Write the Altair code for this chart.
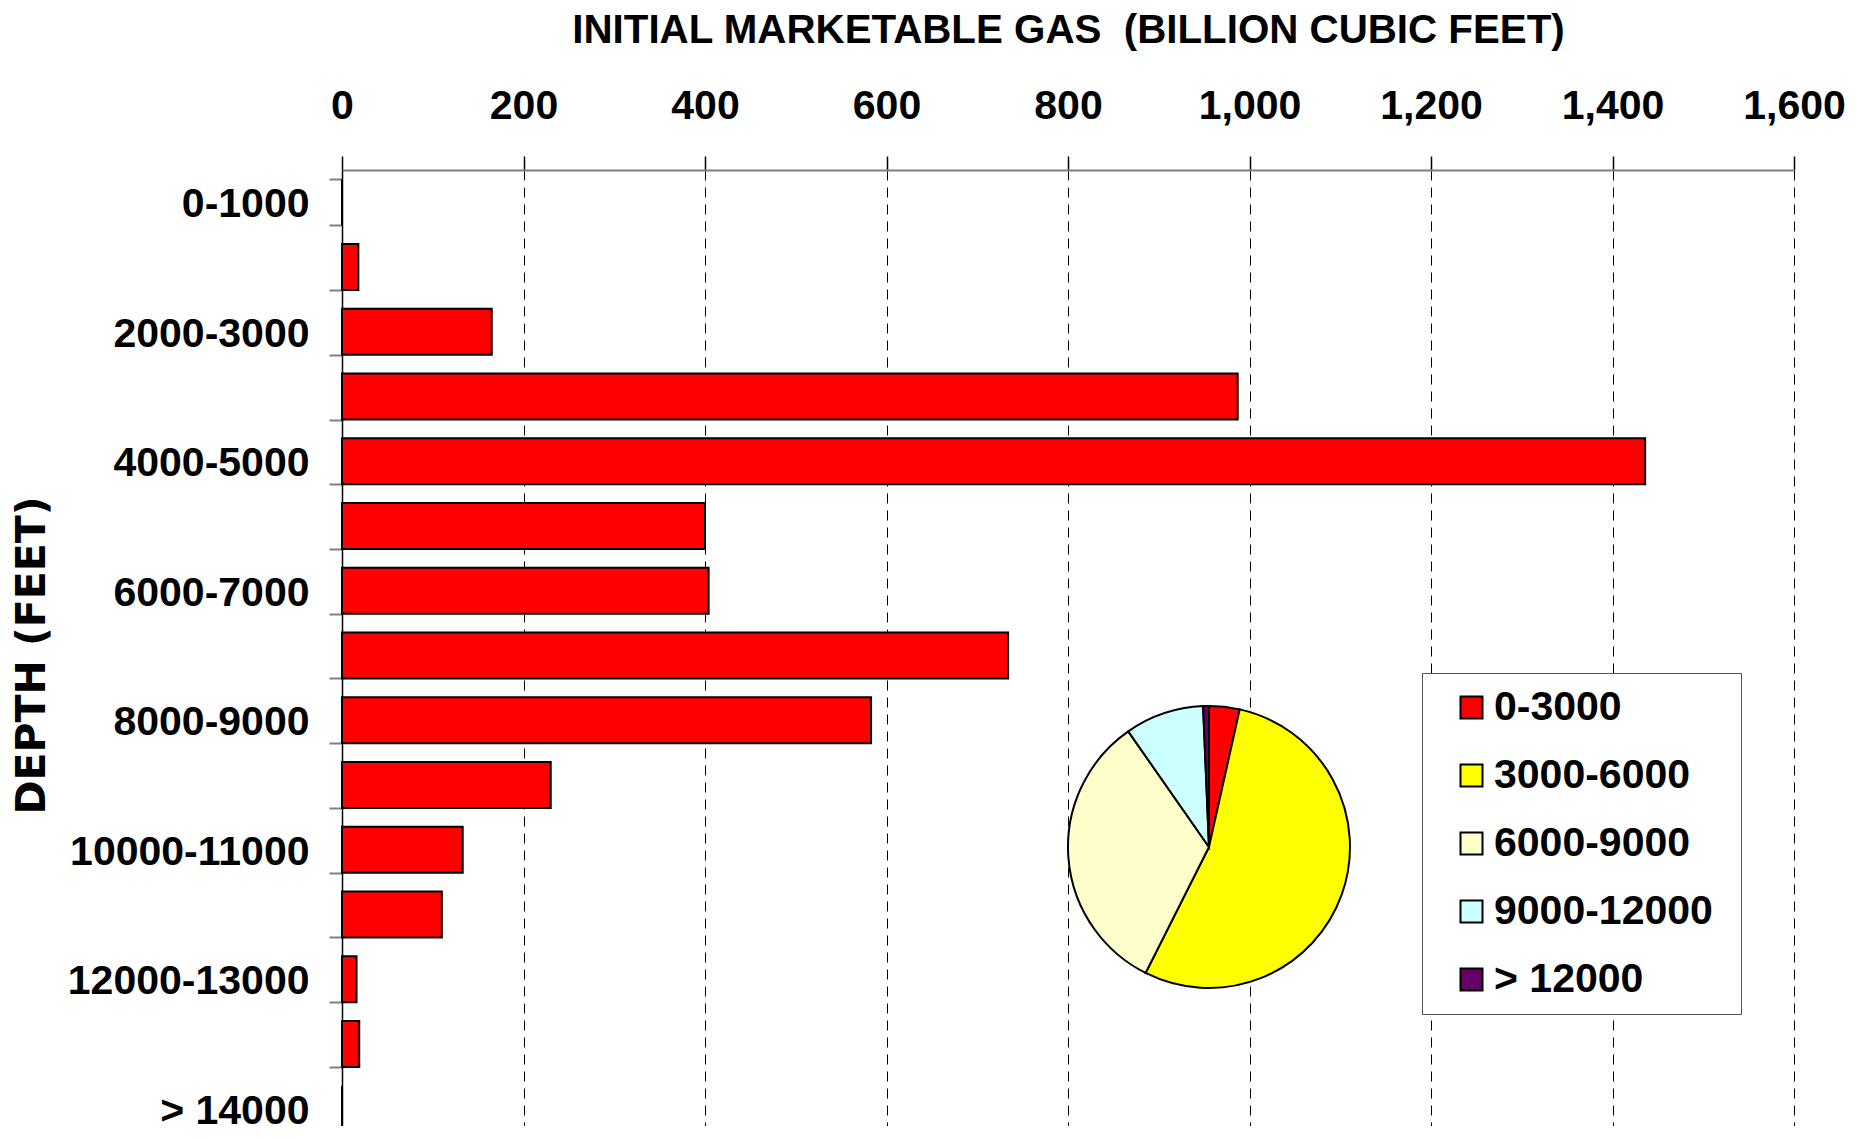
import json
import altair as alt
import pandas as pd

depths = ["0-1000", "1000-2000", "2000-3000", "3000-4000", "4000-5000",
          "5000-6000", "6000-7000", "7000-8000", "8000-9000", "9000-10000",
          "10000-11000", "11000-12000", "12000-13000", "13000-14000", "> 14000"]
gas = [0, 18, 165, 987, 1436, 400, 404, 734, 583, 230, 133, 110, 16, 19, 0]
pie_group = (["0-3000"] * 3 + ["3000-6000"] * 3 + ["6000-9000"] * 3
             + ["9000-12000"] * 3 + ["> 12000"] * 3)
group_names = ["0-3000", "3000-6000", "6000-9000", "9000-12000", "> 12000"]
group_colors = ["#FF0000", "#FFFF00", "#FFFFCC", "#CCFFFF", "#660066"]
x_ticks = [0, 200, 400, 600, 800, 1000, 1200, 1400, 1600]
labelled_depths = depths[::2]

df = pd.DataFrame({"depth": depths, "gas": gas, "group": pie_group})

NARROW = "'Liberation Sans', Arial, sans-serif"
WIDE = "'DejaVu Sans', Verdana, sans-serif"

base = alt.Chart(df)

bars = base.mark_bar(color="#FF0000", stroke="black", strokeWidth=2).encode(
    x=alt.X(
        "gas:Q",
        scale=alt.Scale(domain=[0, 1600], nice=False, zero=True),
        axis=alt.Axis(
            orient="top", values=x_ticks, format=",d",
            title="INITIAL MARKETABLE GAS\u00a0 (BILLION CUBIC FEET)",
            titleFont=NARROW, titleFontSize=40.3, titleFontWeight="bold", titleColor="black",
            titleBaseline="alphabetic", titleY=-128, titleX=726, titleAlign="center",
            titleLimit=1400,
            labelFont=NARROW, labelFontSize=41, labelFontWeight="bold", labelColor="black",
            labelBaseline="alphabetic", labelPadding=38, labelFlush=False,
            domainColor="#808080", domainWidth=2,
            tickColor="black", tickSize=14, tickWidth=1.5,
            grid=True, gridColor="black", gridDash=[10, 7], gridWidth=1,
        ),
    ),
    y=alt.Y(
        "depth:N", sort=depths,
        scale=alt.Scale(paddingInner=0.29, paddingOuter=0.145),
        axis=alt.Axis(
            orient="left", tickBand="extent",
            labelExpr=f"indexof({json.dumps(labelled_depths)}, datum.value) >= 0 ? datum.label : ''",
            labelFont=NARROW, labelFontSize=41, labelFontWeight="bold", labelColor="black",
            labelPadding=20, labelBaseline="middle", labelLimit=400, labelOffset=2.5,
            domainColor="black", domainWidth=1.5,
            tickColor="#808080", tickSize=13, tickWidth=2,
            grid=False,
            title="DEPTH (FEET)", titleFont=WIDE, titleFontSize=41, titleFontWeight="bold",
            titleColor="black", titleAngle=270, titleX=-310, titleY=485,
            titleBaseline="middle", titleAlign="center",
        ),
    ),
)

pie = (
    base.transform_aggregate(total="sum(gas)", groupby=["group"])
    .transform_calculate(gorder=f"indexof({json.dumps(group_names)}, datum.group)")
    .mark_arc(radius=141, stroke="black", strokeWidth=2)
    .encode(
        theta=alt.Theta("total:Q", stack=True),
        color=alt.Color(
            "group:N",
            scale=alt.Scale(domain=group_names, range=group_colors),
            legend=alt.Legend(
                title=" ", titleOrient="right", titlePadding=14, titleFontSize=20,
                orient="none", legendX=1080, legendY=503,
                fillColor="white", strokeColor="#555555",
                padding=14, symbolOffset=15, symbolType="square", symbolSize=484,
                symbolStrokeColor="black", symbolStrokeWidth=2,
                labelFont=NARROW, labelFontSize=41, labelFontWeight="bold",
                labelColor="black", labelOffset=2, rowPadding=26, labelLimit=400,
            ),
        ),
        order=alt.Order("gorder:Q", sort="ascending"),
        x=alt.value(867),
        y=alt.value(677),
    )
)

chart = (
    alt.layer(bars, pie)
    .properties(
        width=1452, height=971,
        autosize=alt.AutoSizeParams(type="none"),
        padding={"left": 334, "top": 162, "right": 54, "bottom": -15},
        background="white",
    )
    .configure_view(stroke=None)
)

chart.save("out.html", embed_options={"renderer": "svg", "actions": False})
